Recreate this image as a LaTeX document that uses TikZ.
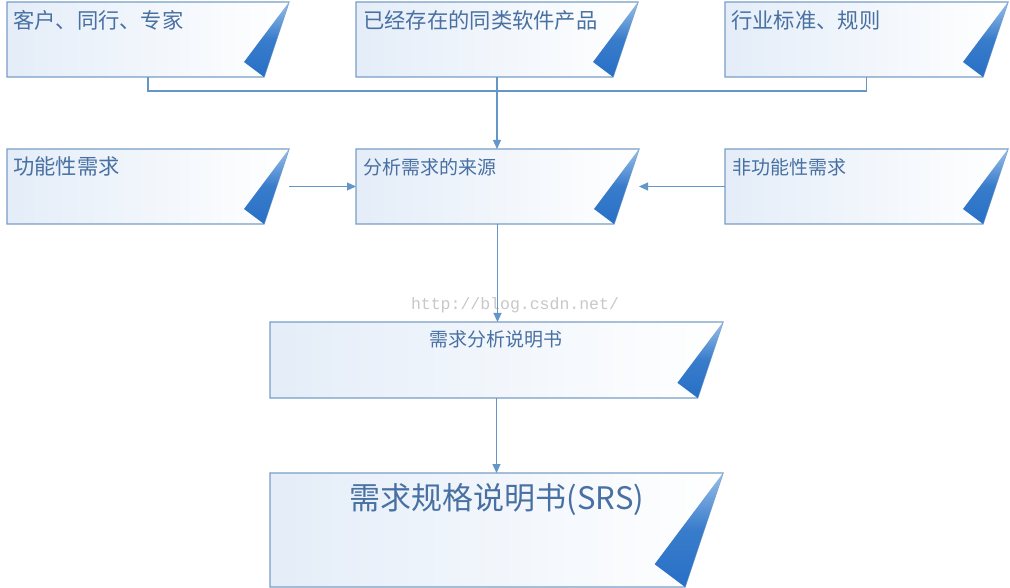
\documentclass[tikz,border=0pt]{standalone}
\usepackage{fontspec}
\newfontfamily\cjk{Noto Sans CJK SC}
\newfontfamily\wm{Liberation Mono}
\usetikzlibrary{arrows.meta,calc}
\definecolor{txtblue}{RGB}{72,112,162}
\definecolor{edgeblue}{RGB}{120,158,198}
\definecolor{lineblue}{RGB}{100,150,200}
\definecolor{boxleft}{RGB}{228,237,248}
\definecolor{triTop}{RGB}{150,190,232}
\definecolor{triBot}{RGB}{40,112,198}
\definecolor{wmgray}{RGB}{200,200,200}
\tikzset{
  holder/.style={anchor=north west, inner sep=0pt, outer sep=0pt, draw=none},
  smalltxt/.style={inner sep=0pt, text=txtblue, font=\cjk\fontsize{19}{22}\selectfont},
  midtxt/.style={inner sep=0pt, text=txtblue, font=\cjk\fontsize{21.3}{24}\selectfont},
  bigtxt/.style={inner sep=0pt, text=txtblue, font=\cjk\fontsize{31}{36}\selectfont},
  conn/.style={draw=lineblue, line width=1.1pt},
  arr/.style={conn, -{Triangle[length=9pt,width=8pt]}},
}
% name, x, y, w, h
\newcommand\docbox[5]{%
  \node[holder, minimum width=#4pt, minimum height=#5pt] (#1) at (#2,#3) {};
  \shade[left color=boxleft, right color=white]
    (#2,#3) -- ++(#4,0) -- ++({-0.333*#5},#5) -- (#2,{#3+#5}) -- cycle;
  \draw[edgeblue, line width=1.1pt, line join=miter]
    (#2,#3) -- ++(#4,0) -- ++({-0.333*#5},#5) -- (#2,{#3+#5}) -- cycle;
  \shade[top color=triTop, bottom color=triBot, middle color=triBot!85!triTop]
    ({#2+#4},#3) -- ++({-0.6*#5},{0.8*#5}) -- ({#2+#4-0.333*#5},{#3+#5}) -- cycle;
}
\begin{document}
\begin{tikzpicture}[x=1pt,y=-1pt]
\useasboundingbox (0,0) rectangle (1010,588);
\fill[white] (0,0) rectangle (1010,588);

\docbox{b1}{7}{2}{282}{75}
\docbox{b2}{356}{2}{282}{75}
\docbox{b3}{725}{2}{283}{75}
\docbox{c1}{7}{149}{282}{75}
\docbox{c2}{356}{149}{283}{75}
\docbox{c3}{725}{149}{283}{75}
\docbox{d}{270}{322}{453}{76}
\docbox{e}{270}{473}{453}{114}

\node[midtxt, anchor=north west] (b1t) at ($(b1.north west)+(6,8)$) {客户、同行、专家};
\node[midtxt, anchor=north west] (b2t) at ($(b2.north west)+(7,8)$) {已经存在的同类软件产品};
\node[midtxt, anchor=north west] (b3t) at ($(b3.north west)+(6,8)$) {行业标准、规则};
\node[midtxt, anchor=north west] (c1t) at ($(c1.north west)+(6,7)$) {功能性需求};
\node[smalltxt, anchor=north west] (c2t) at ($(c2.north west)+(7,9)$) {分析需求的来源};
\node[smalltxt, anchor=north west] (c3t) at ($(c3.north west)+(7,9)$) {非功能性需求};
\node[smalltxt] (dt) at (496,339) {需求分析说明书};
\node[bigtxt] (et) at (497,500) {需求规格说明书(SRS)};

\node[inner sep=0pt, text=wmgray, font=\wm\fontsize{16.5}{18}\selectfont] (wmk) at (515,305) {http://blog.csdn.net/};

\draw[conn] (b1.south) -- ++(0,14) -| (b3.south);
\draw[arr] (b2.south) -- (c2.north -| b2.south);
\draw[arr] (c1.east) -- (c2.west);
\draw[arr] (c3.west) -- (c2.east);
\draw[arr] (c2.south) -- (c2.south |- d.north);
\draw[arr] (d.south) -- (d.south |- e.north);
\end{tikzpicture}
\end{document}
